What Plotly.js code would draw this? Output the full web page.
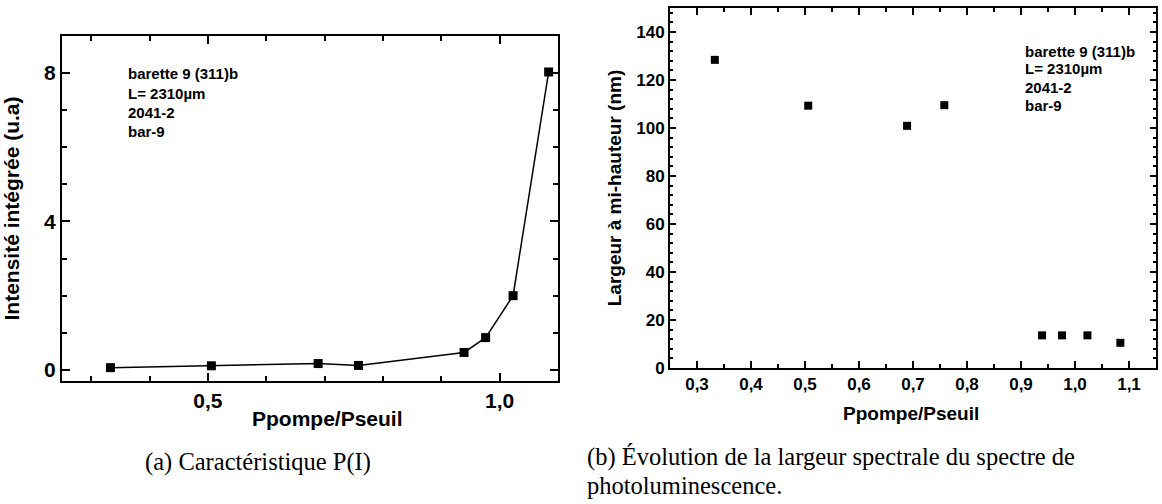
<!DOCTYPE html>
<html>
<head>
<meta charset="utf-8">
<script src="https://cdn.plot.ly/plotly-3.0.1.min.js"></script>
<style>
html,body{margin:0;padding:0;background:#fff;}
#chart{width:1162px;height:504px;}
#captions{position:absolute;left:0;top:0;width:1162px;height:504px;pointer-events:none;}
.cap{position:absolute;font-family:"Liberation Serif","DejaVu Serif",serif;font-size:24.5px;line-height:28px;color:#000;white-space:nowrap;}
</style>
</head>
<body>
<div id="chart"></div>
<div id="captions"></div>
<script>
// ---- data ----
const ratio = [0.333, 0.506, 0.689, 0.758, 0.939, 0.976, 1.023, 1.084];
const intensite = [0.06, 0.11, 0.17, 0.12, 0.47, 0.87, 2.0, 8.03];
const largeur = [128.4, 109.3, 100.9, 109.5, 13.6, 13.6, 13.6, 10.5];
const infoLines = ["barette 9 (311)b", "L= 2310µm", "2041-2", "bar-9"];
const xTitle = "Ppompe/Pseuil";
const yTitleA = "Intensité intégrée (u.a)";
const yTitleB = "Largeur à mi-hauteur (nm)";
const captionA = "(a) Caractéristique P(I)";
const captionB = ["(b) Évolution de la largeur spectrale du spectre de", "photoluminescence."];

// ---- layout helpers ----
const W = 1162, H = 504;
const px = v => v / W;
const py = v => 1 - v / H;
const SANS = "Liberation Sans, Arial, sans-serif";
const bold = s => ({family: SANS, size: s, color: "#000", weight: "bold"});

function axis(extra) {
  return Object.assign({
    showline: true, linewidth: 2, linecolor: "#000", mirror: "allticks",
    ticks: "inside", tickwidth: 2, tickcolor: "#000",
    showgrid: false, zeroline: false
  }, extra);
}

const traces = [
  {x: ratio, y: intensite, xaxis: "x", yaxis: "y", type: "scatter", mode: "lines+markers",
   line: {color: "#000", width: 1.5}, marker: {symbol: "square", size: 9, color: "#000"}},
  {x: ratio, y: largeur, xaxis: "x2", yaxis: "y2", type: "scatter", mode: "markers",
   marker: {symbol: "square", size: 8, color: "#000"}}
];

const ann = [];
function text(t, x, y, font, opts) {
  ann.push(Object.assign({text: t, xref: "paper", yref: "paper", x: px(x), y: py(y),
    showarrow: false, font: font, xanchor: "center", yanchor: "middle"}, opts || {}));
}
// x-axis titles
text(xTitle, 327, 418, bold(21));
text(xTitle, 911, 413, bold(19));
// info blocks
const infoA_y = [73, 93, 113, 132];
const infoB_y = [52, 69, 87, 105];
infoLines.forEach((t, i) => {
  text(t, 126, infoA_y[i], bold(15), {xanchor: "left"});
  text(t, 1023, infoB_y[i], bold(15), {xanchor: "left"});
});

const layout = {
  width: W, height: H, margin: {l: 0, r: 0, t: 0, b: 0},
  showlegend: false,
  separators: ", ",
  xaxis: axis({domain: [px(62), px(558)], range: [0.25, 1.1], tick0: 0, dtick: 0.5,
    tickformat: ".1f", ticklen: 8, tickfont: bold(21),
    minor: {dtick: 0.1, ticks: "inside", ticklen: 5},
    anchor: "y"}),
  yaxis: axis({domain: [py(381), py(36)], range: [-0.3, 9.0], tick0: 0, dtick: 4,
    ticklen: 8, tickfont: bold(21),
    minor: {dtick: 1, ticks: "inside", ticklen: 5},
    title: {text: yTitleA, font: bold(21)},
    anchor: "x"}),
  xaxis2: axis({domain: [px(670), px(1156)], range: [0.25, 1.15], tick0: 0, dtick: 0.1,
    tickformat: ".1f", ticklen: 7, tickfont: bold(17),
    minor: {dtick: 0.05, ticks: "inside", ticklen: 4},
    anchor: "y2"}),
  yaxis2: axis({domain: [py(368), py(8)], range: [0, 150], tick0: 0, dtick: 20,
    ticklen: 6, tickfont: bold(17),
    minor: {dtick: 4, ticks: "inside", ticklen: 3},
    title: {text: yTitleB, font: bold(19)},
    anchor: "x2"}),
  annotations: ann
};

function addCaption(t, left, top, width, align) {
  const d = document.createElement("div");
  d.className = "cap";
  d.style.left = left + "px";
  d.style.top = top + "px";
  if (width) { d.style.width = width + "px"; d.style.textAlign = align; }
  d.textContent = t;
  document.getElementById("captions").appendChild(d);
}

Plotly.newPlot("chart", traces, layout, {displayModeBar: false}).then(gd => {
  setTimeout(() => {
    addCaption(captionA, 58, 448, 400, "center");
    addCaption(captionB[0], 587, 443);
    addCaption(captionB[1], 587, 472);
  }, 300);
});
</script>
</body>
</html>
